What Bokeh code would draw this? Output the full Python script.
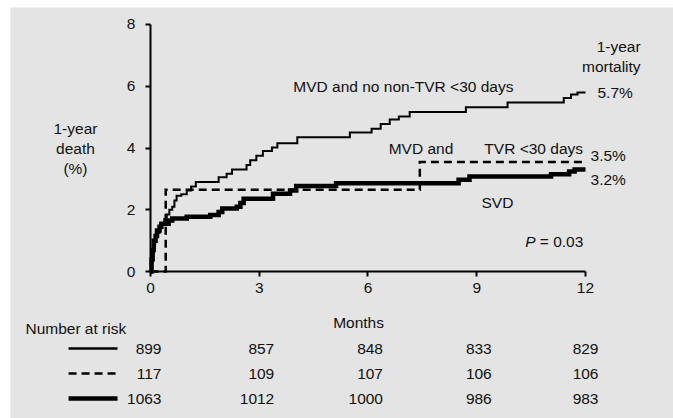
from bokeh.plotting import figure
from bokeh.models import ColumnDataSource, Range1d, FixedTicker, Label, LinearAxis
from bokeh.core.properties import value
from bokeh.embed import file_html
from bokeh.resources import INLINE

# ---------------- data ----------------
mvd_months = [0, 0.03, 0.06, 0.09, 0.13, 0.18, 0.25, 0.30, 0.38, 0.45, 0.52, 0.60,
              0.66, 0.72, 0.85, 1.00, 1.12, 1.25, 1.88, 2.10, 2.25, 2.65, 2.75, 2.92,
              3.10, 3.35, 3.50, 4.05, 5.50, 6.10, 6.35, 6.60, 6.85, 7.15, 8.70, 9.85,
              11.40, 11.60, 11.78, 12.0]
mvd_death = [0, 0.30, 0.60, 0.90, 1.10, 1.25, 1.40, 1.55, 1.70, 1.85, 2.00, 2.10,
             2.30, 2.45, 2.50, 2.62, 2.75, 2.90, 3.05, 3.17, 3.30, 3.45, 3.60, 3.75,
             3.90, 4.02, 4.15, 4.35, 4.50, 4.62, 4.78, 4.92, 5.02, 5.17, 5.32, 5.47,
             5.62, 5.73, 5.80, 5.80]

tvr_months = [0, 0.42, 7.43, 12.0]
tvr_death = [0, 2.65, 3.55, 3.55]

svd_months = [0, 0.03, 0.06, 0.09, 0.14, 0.18, 0.25, 0.30, 0.50, 0.60, 1.00, 1.65,
              1.88, 1.98, 2.38, 2.48, 2.57, 3.38, 3.85, 4.02, 5.12, 8.50, 8.80,
              11.05, 11.55, 11.70, 12.0]
svd_death = [0, 0.40, 0.70, 1.00, 1.15, 1.33, 1.45, 1.55, 1.65, 1.72, 1.77, 1.83,
             1.93, 2.04, 2.10, 2.22, 2.36, 2.52, 2.62, 2.77, 2.86, 2.97, 3.08,
             3.15, 3.24, 3.30, 3.30]

risk_months = [0, 3, 6, 9, 12]
risk_mvd = [899, 857, 848, 833, 829]
risk_tvr = [117, 109, 107, 106, 106]
risk_svd = [1063, 1012, 1000, 986, 983]

x_ticks = [0, 3, 6, 9, 12]
y_ticks = [0, 2, 4, 6, 8]

# ---------------- styling ----------------
FONT = "Liberation Sans"
FS = "15.5px"
TXT = "#101010"
BG = "#e4e4e4"
INK = "#000000"

# one canvas; the frame covers it all, axes sit at x=0 / y=0
p = figure(width=663, height=411, output_backend="svg", toolbar_location=None,
           x_range=Range1d(-3.862, 14.428), y_range=Range1d(-4.761, 8.5506),
           x_axis_location=None, y_axis_location=None, min_border=0,
           margin=(7, 0, 0, 10))
p.background_fill_color = BG
p.border_fill_color = BG
p.outline_line_color = None
p.grid.visible = False
# rows of the number-at-risk table
p.extra_y_ranges = {"table": Range1d(2.8, -13.64)}

xax = LinearAxis(fixed_location=0, bounds=(0, 12), ticker=FixedTicker(ticks=x_ticks))
yax = LinearAxis(fixed_location=0, bounds=(0, 8), ticker=FixedTicker(ticks=y_ticks))
for ax in (xax, yax):
    ax.axis_line_color = INK
    ax.axis_line_width = 2
    ax.major_tick_line_color = INK
    ax.major_tick_line_width = 2
    ax.major_tick_out = 5
    ax.major_tick_in = 0
    ax.minor_tick_line_color = None
    ax.major_label_text_font = FONT
    ax.major_label_text_font_size = FS
    ax.major_label_text_color = TXT
xax.major_label_standoff = 6
yax.major_label_standoff = 10
p.add_layout(xax, "below")
p.add_layout(yax, "left")

p.step(mvd_months, mvd_death, mode="after", line_color=INK, line_width=2,
       line_join="miter")
p.step(tvr_months, tvr_death, mode="after", line_color=INK, line_width=2.5,
       line_dash="8 5", line_join="miter")
p.step(svd_months, svd_death, mode="after", line_color=INK, line_width=4.5,
       line_join="miter")


def lab(x, y, text, align="left", italic=False, rng="default"):
    p.add_layout(Label(x=x, y=y, text=text, text_font=FONT, text_font_size=FS,
                       text_color=TXT, text_align=align, text_baseline="middle",
                       y_range_name=rng,
                       text_font_style="italic" if italic else "normal"))


# y-axis title
lab(-2.07, 4.63, "1-year", "center")
lab(-2.07, 3.98, "death", "center")
lab(-2.07, 3.34, "(%)", "center")

# in-plot annotations
lab(13.52, 7.29, "1-year", "right")
lab(13.52, 6.64, "mortality", "right")
lab(3.94, 5.99, "MVD and no non-TVR <30 days")
lab(6.57, 3.98, "MVD and")
lab(9.21, 3.98, "TVR <30 days")
lab(9.13, 2.23, "SVD")
lab(12.33, 5.80, "5.7%")
lab(12.14, 3.76, "3.5%")
lab(12.14, 2.98, "3.2%")
lab(10.34, 0.97, "P", italic=True)
lab(10.74, 0.97, "= 0.03")

# ---------------- number-at-risk table ----------------
lab(5.74, -1.04, "Months", "center", rng="table")
lab(-3.45, -0.8, "Number at risk", rng="table")

num_offsets = [11, 15, 15, 15, 13]
rows = [(risk_mvd, 2.5, None), (risk_tvr, 2.5, "8 5"), (risk_svd, 4.5, None)]
for i, (vals, lw, dash) in enumerate(rows):
    kw = dict(line_dash=dash) if dash else {}
    p.segment(x0=[-2.26], y0=[i], x1=[-0.91], y1=[i], line_color=INK,
              line_width=lw, y_range_name="table", **kw)
    src = ColumnDataSource(dict(x=risk_months, y=[i] * len(vals),
                                t=[str(v) for v in vals], off=num_offsets))
    p.text(x="x", y="y", text="t", x_offset="off", source=src,
           y_range_name="table",
           text_font=value(FONT), text_font_size=FS, text_color=TXT,
           text_align="right", text_baseline="middle")

open("out.html", "w").write(file_html(p, INLINE))
